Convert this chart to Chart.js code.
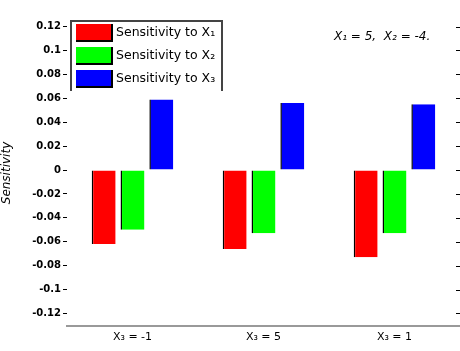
<!DOCTYPE html>
<html>
<head>
<meta charset="utf-8">
<script src="https://cdn.jsdelivr.net/npm/chart.js@4/dist/chart.umd.min.js"></script>
<style>
  html, body { margin: 0; padding: 0; background: #fff; }
  #wrap { width: 460px; height: 351px; }
</style>
</head>
<body>
<div id="wrap"><canvas id="sensChart"></canvas></div>
<script>
// chart data
const categories = ['X₃ = -1', 'X₃ = 5', 'X₃ = 1'];
const seriesNames = ['Sensitivity to X₁', 'Sensitivity to X₂', 'Sensitivity to X₃'];
const sensX1 = [-0.062, -0.066, -0.073];
const sensX2 = [-0.050, -0.053, -0.053];
const sensX3 = [0.059, 0.056, 0.055];
const yTicks = [-0.12, -0.1, -0.08, -0.06, -0.04, -0.02, 0, 0.02, 0.04, 0.06, 0.08, 0.1, 0.12];
const noteText = 'X₁ = 5,  X₂ = -4.';

const colors = ['#ff0000', '#00ff00', '#0000ff'];

// legend in a framed box, top left of the plot
const boxLegend = {
    id: 'boxLegend',
    afterDraw(chart) {
        const ctx = chart.ctx;
        ctx.save();
        ctx.strokeStyle = '#444';
        ctx.lineWidth = 2;
        ctx.beginPath();
        ctx.moveTo(71, 91);
        ctx.lineTo(71, 21);
        ctx.lineTo(222, 21);
        ctx.lineTo(222, 91);
        ctx.stroke();
        ctx.font = '12.5px "DejaVu Sans"';
        ctx.textBaseline = 'middle';
        seriesNames.forEach((name, i) => {
            const y = 24 + i * 23;
            ctx.fillStyle = colors[i];
            ctx.fillRect(76, y, 36, 17);
            ctx.fillStyle = '#000';
            ctx.fillRect(111, y, 2, 18);
            ctx.fillRect(76, y + 16, 37, 2);
            ctx.fillText(name, 116, y + 9);
        });
        // fixed values note
        ctx.font = 'italic 12px "DejaVu Sans"';
        ctx.fillText(noteText, 334, 37);
        ctx.restore();
    }
};

// small mirrored ticks on the right edge
const rightTicks = {
    id: 'rightTicks',
    afterDraw(chart) {
        const ctx = chart.ctx;
        const yScale = chart.scales.y;
        ctx.save();
        ctx.strokeStyle = '#000';
        ctx.lineWidth = 1;
        yTicks.forEach(v => {
            const y = Math.round(yScale.getPixelForValue(v)) + 0.5;
            ctx.beginPath();
            ctx.moveTo(456, y);
            ctx.lineTo(460, y);
            ctx.stroke();
        });
        ctx.restore();
    }
};

const ctx = document.getElementById('sensChart').getContext('2d');
new Chart(ctx, {
    type: 'bar',
    data: {
        labels: categories,
        datasets: [sensX1, sensX2, sensX3].map((vals, i) => ({
            label: seriesNames[i],
            data: vals,
            backgroundColor: colors[i],
            borderColor: '#000',
            borderWidth: { left: 1.5, right: 0, top: 0, bottom: 0 },
            borderSkipped: false,
            barPercentage: 0.83,
            categoryPercentage: 0.66
        }))
    },
    options: {
        responsive: true,
        maintainAspectRatio: false,
        animation: false,
        layout: { padding: { top: 20, right: 0, left: 0, bottom: 0 } },
        plugins: {
            legend: { display: false },
            tooltip: { enabled: false }
        },
        scales: {
            x: {
                grid: { display: false, drawTicks: false },
                border: { display: true, color: '#999', width: 2 },
                ticks: {
                    color: '#000',
                    padding: 5,
                    font: { family: 'DejaVu Sans', size: 11 }
                },
                afterFit(scale) { scale.height = 25; }
            },
            y: {
                min: -0.1305,
                max: 0.1255,
                afterBuildTicks(scale) {
                    scale.ticks = yTicks.map(v => ({ value: v }));
                },
                grid: {
                    drawOnChartArea: false,
                    drawTicks: true,
                    tickLength: 4,
                    color: '#000'
                },
                border: { display: false },
                ticks: {
                    color: '#000',
                    padding: 2,
                    font: { family: 'DejaVu Sans', size: 10, weight: 'bold' },
                    callback: v => String(parseFloat(v.toFixed(2)))
                },
                title: {
                    display: true,
                    text: 'Sensitivity',
                    color: '#000',
                    padding: { top: 0, bottom: 2 },
                    font: { family: 'DejaVu Sans', size: 12, style: 'italic' }
                },
                afterFit(scale) { scale.width = 67; }
            }
        }
    },
    plugins: [boxLegend, rightTicks]
});
</script>
</body>
</html>
